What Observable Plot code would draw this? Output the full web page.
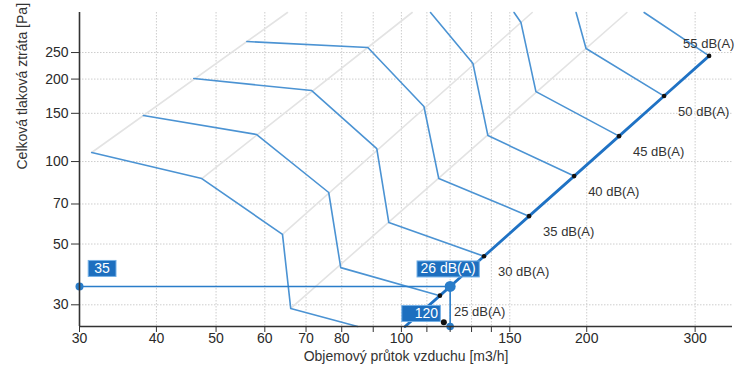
<!DOCTYPE html>
<html><head><meta charset="utf-8">
<script src="https://cdn.jsdelivr.net/npm/d3@7"></script>
<script src="https://cdn.jsdelivr.net/npm/@observablehq/plot@0.6"></script>
<style>
body{margin:0;background:#fff;}
#chart svg{display:block;}
</style></head><body><div id="chart"></div>
<script>
const xLabel = "Objemový průtok vzduchu [m3/h]";
const yLabel = "Celková tlaková ztráta [Pa]";
const xTicks = [30,40,50,60,70,80,90,100,110,120,130,140,150,200,300];
const xTickLabels = ["30","40","50","60","70","80","90","100","","","","","150","200","300"];
const yTicks = [30,50,70,100,150,200,250];
const yTickLabels = ["30","50","70","100","150","200","250"];

// thin noise curves (dB level), flow / pressure pairs
const curveLevels = [20,25,30,35,40,45,50,55];
const curveFlows = [
  [31.4,47.4,64.1,66.1,84.9],
  [38.1,58.2,76.2,79.7,115.5],
  [46.0,71.5,91.2,95.4,136.2],
  [56.1,88.2,108.8,115.0,161.2],
  [111.5,130.7,138.2,190.8],
  [152.4,156.4,165.4,225.7],
  [192.2,199.5,267.1],
  [247.9,316.1]
];
const curvePressures = [
  [107.9,86.7,54.2,29.1,25.0],
  [147.2,125.5,77.1,41.0,32.4],
  [200.9,181.6,111.5,59.9,45.1],
  [274.2,260.7,158.8,86.7,63.2],
  [350,227.9,124.4,88.5],
  [350,321.6,180.0,123.8],
  [350,258.5,173.4],
  [350,243.0]
];
// light grey guide lines
const guideFlows = [[31.4,65.3],[47.4,104.1],[64.1,163.1],[66.1,232.4]];
const guidePressures = [[107.9,350],[86.7,350],[54.2,350],[29.1,350]];

// system (resistance) line
const systemFlows = [101.4,115.5,120,136.2,161.2,190.8,225.7,267.1,316.1];
const systemPressures = [25,32.4,35,45.1,63.2,88.5,123.8,173.4,243.0];

// labelled points on the system line
const pointLabels = ["25 dB(A)","30 dB(A)","35 dB(A)","40 dB(A)","45 dB(A)","50 dB(A)","55 dB(A)"];
const pointFlows = [115.5,136.2,161.2,190.8,225.7,267.1,316.1];
const pointPressures = [32.4,45.1,63.2,88.5,123.8,173.4,243.0];

// working point
const workFlow = 120;
const workPressure = 35;
const workLevel = "26 dB(A)";
const axisMinFlow = 30;
const axisMinPressure = 25;
const markerFlow = [117.2];
const markerPressure = [25.9];

const curves = curveLevels.flatMap((lvl, i) => curveFlows[i].map((f, j) => ({level: lvl, flow: f, pressure: curvePressures[i][j]})));
const guides = guideFlows.flatMap((fs, i) => fs.map((f, j) => ({id: i, flow: f, pressure: guidePressures[i][j]})));
const system = systemFlows.map((f, i) => ({flow: f, pressure: systemPressures[i]}));
const points = pointFlows.map((f, i) => ({flow: f, pressure: pointPressures[i], label: pointLabels[i]}));
const cross = [
  {flow: axisMinFlow, pressure: workPressure},
  {flow: workFlow, pressure: workPressure},
  {flow: workFlow, pressure: axisMinPressure}
];
const markers = markerFlow.map((f, i) => ({flow: f, pressure: markerPressure[i]}));
const xFmt = new Map(xTicks.map((t, i) => [t, xTickLabels[i]]));
const yFmt = new Map(yTicks.map((t, i) => [t, yTickLabels[i]]));

const blue = "#1d6fbf";
const chart = Plot.plot({
  width: 742, height: 372,
  marginLeft: 79, marginRight: 10, marginTop: 12, marginBottom: 46,
  x: {type: "log", domain: [30, 345]},
  y: {type: "log", domain: [25, 350]},
  style: {fontFamily: "'Liberation Sans', Arial, sans-serif", fontSize: "14px", color: "#2a2a2a", background: "#fff"},
  marks: [
    Plot.ruleX(xTicks, {stroke: "#cdcdcd", strokeDasharray: "1.5,1.5"}),
    Plot.ruleY(yTicks, {stroke: "#cdcdcd", strokeDasharray: "1.5,1.5"}),
    Plot.line(guides, {x: "flow", y: "pressure", z: "id", stroke: "#e3e3e3", strokeWidth: 1.6}),
    Plot.line(curves, {x: "flow", y: "pressure", z: "level", stroke: "#4b93d3", strokeWidth: 1.6}),
    Plot.line(cross, {x: "flow", y: "pressure", stroke: "#2a7dc9", strokeWidth: 1.6}),
    Plot.line(system, {x: "flow", y: "pressure", stroke: "#1f72c4", strokeWidth: 2.8}),
    Plot.dot(points, {x: "flow", y: "pressure", r: 2.3, fill: "#111"}),
    Plot.dot(markers, {x: "flow", y: "pressure", r: 3, fill: "#111"}),
    Plot.dot([cross[0]], {x: "flow", y: "pressure", r: 4, fill: "#2a7dc9"}),
    Plot.dot([cross[1]], {x: "flow", y: "pressure", r: 5.5, fill: "#2a7dc9"}),
    Plot.dot([cross[2]], {x: "flow", y: "pressure", r: 3.8, fill: "#2a7dc9"}),
    Plot.text(points.slice(0, 6), {x: "flow", y: "pressure", text: "label", textAnchor: "start", dx: 14, dy: 16, fontSize: 13, fill: "#333"}),
    Plot.text(points.slice(6), {x: "flow", y: "pressure", text: "label", textAnchor: "start", dx: -26, dy: -12, fontSize: 13, fill: "#333"}),
    Plot.text([cross[0]], {x: "flow", y: "pressure", text: d => String(d.pressure), textAnchor: "middle", dx: 22.5, dy: -18, fontSize: 14, fill: "#fff", ariaDescription: "box-a"}),
    Plot.text([cross[1]], {x: "flow", y: "pressure", text: () => workLevel, textAnchor: "middle", dx: -2, dy: -17.5, fontSize: 14, fill: "#fff", ariaDescription: "box-b"}),
    Plot.text([cross[2]], {x: "flow", y: "pressure", text: d => String(d.flow), textAnchor: "end", dx: -12, dy: -13, fontSize: 14, fill: "#fff", ariaDescription: "box-c"}),
    Plot.ruleX([axisMinFlow], {stroke: "#333", strokeWidth: 1.6}),
    Plot.ruleY([axisMinPressure], {stroke: "#333", strokeWidth: 1.6}),
    Plot.axisX(xTicks, {tickSize: 6, tickPadding: 1, tickFormat: d => xFmt.get(d), label: null, fontSize: 14, stroke: "#333"}),
    Plot.axisY(yTicks, {tickSize: 8, tickPadding: 3, tickFormat: d => yFmt.get(d), label: null, fontSize: 14, stroke: "#333"}),
    Plot.text([xLabel], {frameAnchor: "bottom", dy: 34, fontSize: 14, fill: "#333"}),
    Plot.text([yLabel], {frameAnchor: "left", dx: -57, rotate: -90, fontSize: 14, fill: "#333"})
  ]
});
document.getElementById("chart").append(chart);

const pads = {"box-a": [6, 6], "box-b": [3.5, 3.5], "box-c": [13, 2]};
for (const [name, [pl, pr]] of Object.entries(pads)) {
  chart.querySelectorAll(`g[aria-description="${name}"] text`).forEach(t => {
    const b = t.getBBox();
    const r = document.createElementNS("http://www.w3.org/2000/svg", "rect");
    r.setAttribute("x", b.x - pl);
    r.setAttribute("y", b.y + 0.5);
    r.setAttribute("width", b.width + pl + pr);
    r.setAttribute("height", b.height);
    r.setAttribute("fill", blue);
    r.setAttribute("stroke", "#74b0e6");
    r.setAttribute("stroke-width", "1");
    const tr = t.getAttribute("transform");
    if (tr) r.setAttribute("transform", tr);
    t.parentNode.insertBefore(r, t);
  });
}
</script>
</body></html>
